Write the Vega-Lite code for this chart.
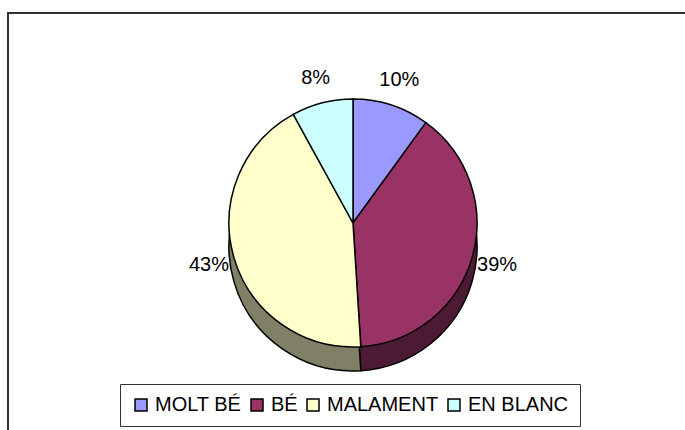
{
  "$schema": "https://vega.github.io/schema/vega-lite/v6.json",
  "background": "white",
  "padding": {"left": 8, "top": 13, "right": 0, "bottom": 0},
  "autosize": {"type": "none"},
  "width": 690,
  "height": 420,
  "data": {
    "values": [
      {"cat": "MOLT BÉ", "pct": 0.10, "ord": 1},
      {"cat": "BÉ", "pct": 0.39, "ord": 2},
      {"cat": "MALAMENT", "pct": 0.43, "ord": 3},
      {"cat": "EN BLANC", "pct": 0.08, "ord": 4}
    ]
  },
  "layer": [
    {
      "mark": {"type": "point", "opacity": 0},
      "encoding": {
        "x": {"field": "ord", "type": "quantitative", "axis": null},
        "y": {"field": "pct", "type": "quantitative", "axis": null}
      }
    },
    {
      "mark": {"type": "arc", "radius": 124, "yOffset": 8, "strokeWidth": 0},
      "encoding": {
        "theta": {"field": "pct", "type": "quantitative", "stack": true},
        "order": {"field": "ord", "type": "quantitative"},
        "fill": {"field": "cat", "type": "nominal", "legend": null,
          "scale": {"domain": ["MOLT BÉ", "BÉ", "MALAMENT", "EN BLANC"], "range": ["#4D4D80", "#4D1A33", "#808066", "#668080"]}}
      }
    },
    {
      "mark": {"type": "arc", "radius": 124, "yOffset": 16, "strokeWidth": 0},
      "encoding": {
        "theta": {"field": "pct", "type": "quantitative", "stack": true},
        "order": {"field": "ord", "type": "quantitative"},
        "fill": {"field": "cat", "type": "nominal", "legend": null,
          "scale": {"domain": ["MOLT BÉ", "BÉ", "MALAMENT", "EN BLANC"], "range": ["#4D4D80", "#4D1A33", "#808066", "#668080"]}}
      }
    },
    {
      "mark": {"type": "arc", "radius": 124, "yOffset": 24, "stroke": "black", "strokeWidth": 1.5},
      "encoding": {
        "theta": {"field": "pct", "type": "quantitative", "stack": true},
        "order": {"field": "ord", "type": "quantitative"},
        "fill": {"field": "cat", "type": "nominal", "legend": null,
          "scale": {"domain": ["MOLT BÉ", "BÉ", "MALAMENT", "EN BLANC"], "range": ["#4D4D80", "#4D1A33", "#808066", "#668080"]}}
      }
    },
    {
      "mark": {"type": "arc", "radius": 124, "stroke": "black", "strokeWidth": 1.5},
      "encoding": {
        "theta": {"field": "pct", "type": "quantitative", "stack": true},
        "order": {"field": "ord", "type": "quantitative"},
        "color": {"field": "cat", "type": "nominal", "title": null,
          "scale": {"domain": ["MOLT BÉ", "BÉ", "MALAMENT", "EN BLANC"], "range": ["#9999FF", "#993366", "#FFFFCC", "#CCFFFF"]},
          "legend": {
            "orient": "none", "legendX": 112, "legendY": 371, "direction": "horizontal",
            "columns": 4, "symbolType": "square", "symbolSize": 144,
            "symbolStrokeColor": "black", "symbolStrokeWidth": 1.5,
            "strokeColor": "#333", "fillColor": "white", "padding": 11,
            "columnPadding": 5, "labelOffset": 4,
            "labelFont": "Liberation Sans", "labelFontSize": 20, "labelColor": "black",
            "labelLimit": 300
          }
        }
      }
    },
    {
      "mark": {"type": "text", "radius": 150, "font": "Liberation Sans", "fontSize": 20, "color": "black"},
      "encoding": {
        "theta": {"field": "pct", "type": "quantitative", "stack": true},
        "order": {"field": "ord", "type": "quantitative"},
        "text": {"field": "pct", "type": "quantitative", "format": ".0%"}
      }
    }
  ],
  "resolve": {"scale": {"fill": "independent", "color": "independent"}},
  "config": {
    "view": {"stroke": "#333", "strokeWidth": 2}
  }
}
